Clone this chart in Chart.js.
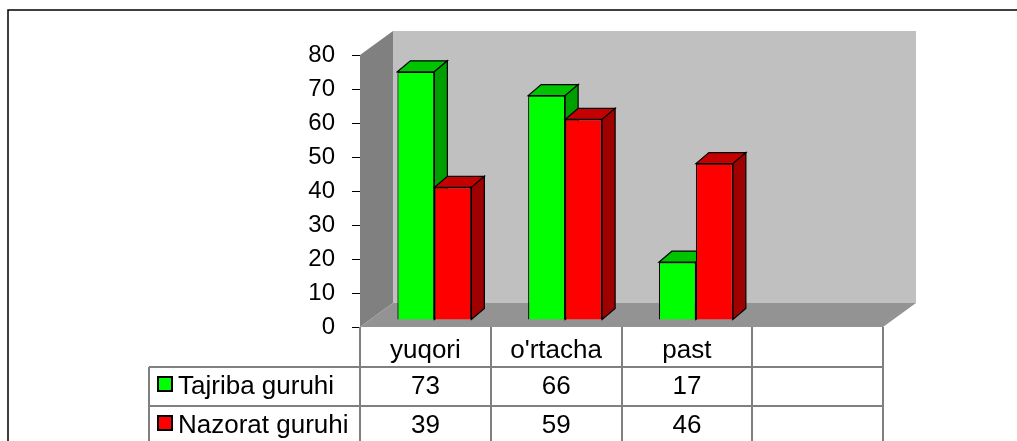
<!DOCTYPE html>
<html>
<head>
<meta charset="utf-8">
<script src="https://cdn.jsdelivr.net/npm/chart.js@4/dist/chart.umd.min.js"></script>
<style>
  html, body { margin: 0; padding: 0; background: #fff; }
  canvas { display: block; }
</style>
</head>
<body>
<canvas id="chart" width="1017" height="441"></canvas>
<script>
// data
const categories = ["yuqori", "o'rtacha", "past", ""];
const seriesNames = ["Tajriba guruhi", "Nazorat guruhi"];
const tajriba = [73, 66, 17, null];
const nazorat = [39, 59, 46, null];
const yMin = 0, yMax = 80, yStep = 10;

// look
const FONT = "'Liberation Sans', Arial, sans-serif";
const frontColors = ["#00ff00", "#ff0000"];
const topColors = ["#00c400", "#c40000"];
const sideColors = ["#009f00", "#9f0000"];
const WALL_DEPTH = { x: 33, y: -24 };
const BAR_SHIFT = { x: 9, y: -7 };
const BAR_DEPTH = { x: 13, y: -11 };

function poly(ctx, pts, fill, stroke) {
    ctx.beginPath();
    ctx.moveTo(pts[0][0], pts[0][1]);
    for (let i = 1; i < pts.length; i++) ctx.lineTo(pts[i][0], pts[i][1]);
    ctx.closePath();
    if (fill) { ctx.fillStyle = fill; ctx.fill(); }
    if (stroke) { ctx.strokeStyle = stroke; ctx.lineWidth = 1.2; ctx.stroke(); }
}

// back wall, side wall and floor
const walls = {
    id: "walls",
    beforeDatasetsDraw(chart) {
        const { ctx, chartArea: a } = chart;
        const dx = WALL_DEPTH.x, dy = WALL_DEPTH.y;
        ctx.save();
        ctx.fillStyle = "#c0c0c0";
        ctx.fillRect(a.left + dx, a.top + dy, a.width, a.height);
        poly(ctx, [[a.left, a.top], [a.left + dx, a.top + dy], [a.left + dx, a.bottom + dy], [a.left, a.bottom]], "#808080");
        poly(ctx, [[a.left, a.bottom], [a.left + dx, a.bottom + dy], [a.right + dx, a.bottom + dy], [a.right, a.bottom]], "#939393");
        ctx.restore();
    }
};

// bars drawn in series order (green first), each with its top and side face
const bars3d = {
    id: "bars3d",
    beforeDatasetDraw() {
        return false;
    },
    afterDatasetsDraw(chart) {
        const ctx = chart.ctx;
        const dx = BAR_DEPTH.x, dy = BAR_DEPTH.y;
        ctx.save();
        ctx.translate(BAR_SHIFT.x, BAR_SHIFT.y);
        chart.data.datasets.forEach((ds, di) => {
            const meta = chart.getDatasetMeta(di);
            meta.data.forEach((bar, i) => {
                if (ds.data[i] == null) return;
                bar.draw(ctx);
                const { x, y, base, width } = bar.getProps(["x", "y", "base", "width"], true);
                const l = x - width / 2, r = x + width / 2;
                poly(ctx, [[l, y], [l + dx, y + dy], [r + dx, y + dy], [r, y]], topColors[di], "#000");
                poly(ctx, [[r, y], [r + dx, y + dy], [r + dx, base + dy], [r, base]], sideColors[di], "#000");
            });
        });
        ctx.restore();
    }
};

// data table under the plot + outer frame
const dataTable = {
    id: "dataTable",
    afterDraw(chart) {
        const { ctx, chartArea: a, scales: { x } } = chart;
        const colW = a.width / categories.length;
        const headBottom = a.bottom + 40;
        const rowH = 39;
        const tableLeft = 149;
        const bottom = chart.height;
        ctx.save();

        // grid lines
        ctx.strokeStyle = "#808080";
        ctx.lineWidth = 2;
        ctx.beginPath();
        for (let i = 0; i <= categories.length; i++) {
            const px = Math.round(a.left + i * colW);
            ctx.moveTo(px, a.bottom);
            ctx.lineTo(px, bottom);
        }
        ctx.moveTo(tableLeft, headBottom);
        ctx.lineTo(tableLeft, bottom);
        for (let r = 0; r < seriesNames.length; r++) {
            const py = headBottom + r * rowH;
            ctx.moveTo(tableLeft, py);
            ctx.lineTo(a.right + 1, py);
        }
        ctx.stroke();

        // texts
        ctx.fillStyle = "#000";
        ctx.font = "26px " + FONT;
        ctx.textBaseline = "alphabetic";
        ctx.textAlign = "center";
        categories.forEach((c, i) => ctx.fillText(c, x.getPixelForValue(i), a.bottom + 31));
        [tajriba, nazorat].forEach((vals, r) => {
            const base = headBottom + r * rowH + 27;
            ctx.textAlign = "center";
            vals.forEach((v, i) => {
                if (v != null) ctx.fillText(String(v), x.getPixelForValue(i), base);
            });
            // legend key
            ctx.fillStyle = frontColors[r];
            ctx.fillRect(158, base - 17, 14, 14);
            ctx.strokeStyle = "#000";
            ctx.lineWidth = 2;
            ctx.strokeRect(158, base - 17, 14, 14);
            ctx.fillStyle = "#000";
            ctx.textAlign = "left";
            ctx.fillText(seriesNames[r], 178, base);
        });

        // frame
        ctx.strokeStyle = "#000";
        ctx.lineWidth = 1.5;
        ctx.beginPath();
        ctx.moveTo(8, chart.height);
        ctx.lineTo(8, 10);
        ctx.lineTo(chart.width, 10);
        ctx.stroke();
        ctx.restore();
    }
};

new Chart(document.getElementById("chart"), {
    type: "bar",
    data: {
        labels: categories,
        datasets: [
            {
                label: seriesNames[0],
                data: tajriba,
                backgroundColor: frontColors[0],
                borderColor: "#000",
                borderWidth: 1.2
            },
            {
                label: seriesNames[1],
                data: nazorat,
                backgroundColor: frontColors[1],
                borderColor: "#000",
                borderWidth: 1.2
            }
        ]
    },
    options: {
        responsive: false,
        animation: false,
        events: [],
        layout: { padding: { left: 0, top: 55, right: 134, bottom: 114 } },
        datasets: { bar: { categoryPercentage: 0.566, barPercentage: 1 } },
        scales: {
            x: { display: false },
            y: {
                min: yMin,
                max: yMax,
                ticks: {
                    stepSize: yStep,
                    color: "#000",
                    padding: 17,
                    font: { family: FONT, size: 24 }
                },
                grid: { drawOnChartArea: false, tickLength: 8, tickColor: "#000", lineWidth: 1 },
                border: { display: false },
                afterFit(scale) { scale.width = 360; }
            }
        },
        plugins: {
            legend: { display: false },
            tooltip: { enabled: false },
            title: { display: false }
        }
    },
    plugins: [walls, bars3d, dataTable]
});
</script>
</body>
</html>
